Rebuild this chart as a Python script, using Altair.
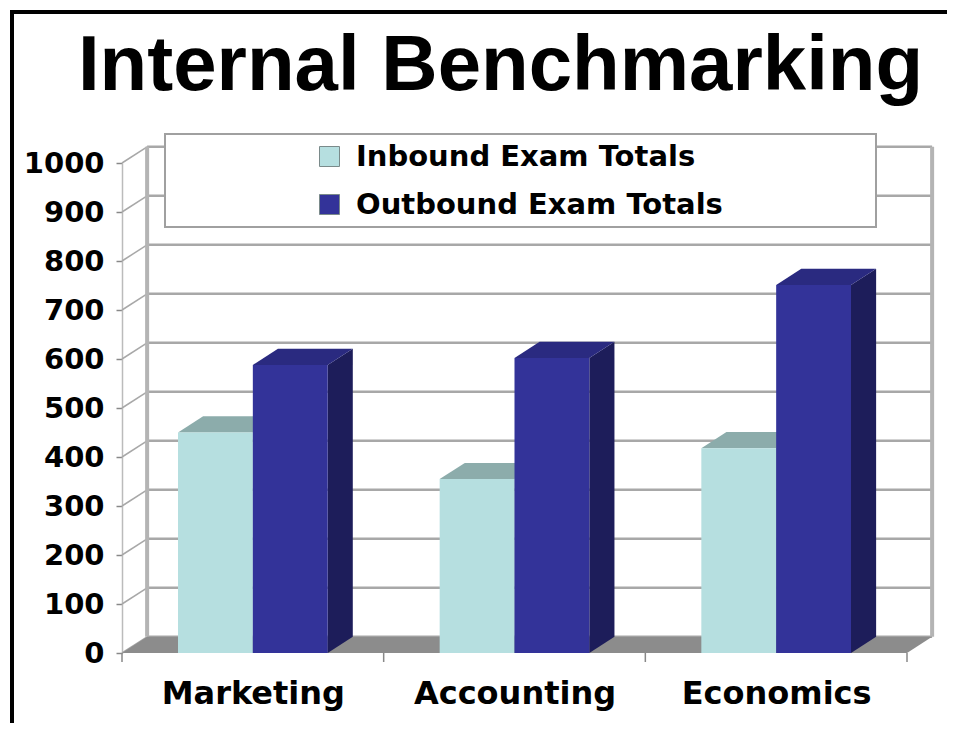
import altair as alt
import pandas as pd
import json

# ---- data ----
categories = ["Marketing", "Accounting", "Economics"]
series = ["Inbound Exam Totals", "Outbound Exam Totals"]
inbound = [450, 355, 418]
outbound = [588, 602, 751]
y_ticks = list(range(0, 1001, 100))

# ---- style constants (3-D look) ----
BAR_W = 0.286      # bar width, in category units
DX = 0.096         # depth offset along x (category units)
DY = 33            # depth offset along y (value units)
W, H = 785, 490
N = len(categories)
PX_X = N / W       # category units per pixel
PX_Y = 1000 / H    # value units per pixel

front_colors = ["#B6DFE0", "#333399"]
top_colors = ["#8CACAB", "#2A2A80"]
side_colors = ["#7E9A9A", "#1D1D5A"]

# ---- tables built from the arrays ----
rows = []
for i, cat in enumerate(categories):
    c = i + 0.5
    for s, vals in enumerate([inbound, outbound]):
        x0 = c - BAR_W if s == 0 else c
        rows.append(dict(category=cat, series=series[s], sidx=s, value=vals[i],
                         zero=0, x0=x0, x1=x0 + BAR_W, bar=f"{cat}-{s}"))
bars = pd.DataFrame(rows)

top_pts, side_pts = [], []
for r in rows:
    a, b, v = r["x0"], r["x1"], r["value"]
    for x, y, y2 in [(a, v, v), (a + DX, v, v + DY), (b, v, v + DY), (b + DX, v + DY, v + DY)]:
        top_pts.append(dict(bar=r["bar"], sidx=r["sidx"], x=x, y=y, y2=y2))
    for x, y, y2 in [(b, 0, v), (b + DX, DY, v + DY)]:
        side_pts.append(dict(bar=r["bar"], sidx=r["sidx"], x=x, y=y, y2=y2))
top_df = pd.DataFrame(top_pts)
side_df = pd.DataFrame(side_pts)

floor_df = pd.DataFrame([dict(x=0, y=0, y2=0), dict(x=DX, y=0, y2=DY),
                         dict(x=N, y=0, y2=DY), dict(x=N + DX, y=DY, y2=DY)])
grid_df = pd.DataFrame(dict(t=y_ticks))
grid_df["yb"] = grid_df["t"] + DY
grid_df["xa"] = 0.0
grid_df["xb"] = DX
grid_df["xc"] = N + DX
walls_df = pd.DataFrame(dict(x=[DX, N + DX], y=[DY, DY], y2=[1000 + DY, 1000 + DY]))
bounds_df = pd.DataFrame(dict(x=list(range(N + 1)), y=0.0, y2=-9 * PX_Y))

# decorations expressed in scale units
fx = -110 * PX_X
fy = 1000 + 151 * PX_Y
frame_v = pd.DataFrame([dict(x=fx, y=fy + 2 * PX_Y, y2=-300)])
frame_h = pd.DataFrame([dict(x=fx - 2 * PX_X, x2=N + 1, y=fy)])
legend_box = pd.DataFrame([dict(x=43 * PX_X, x2=754 * PX_X,
                                y=1000 + 29 * PX_Y, y2=1000 - 64 * PX_Y)])

xs = alt.Scale(domain=[0, N], nice=False, zero=False)
ys = alt.Scale(domain=[0, 1000], nice=False, zero=False)

AX_X = alt.Axis(
    values=[i + 0.5 for i in range(N)],
    labelExpr=f"{json.dumps(categories)}[floor(datum.value)]",
    ticks=False, domain=False, grid=False, title=None,
    labelFont="DejaVu Sans", labelFontWeight="bold", labelFontSize=32,
    labelColor="black", labelPadding=25, labelLimit=1000)
AX_Y = alt.Axis(
    values=y_ticks, format="d", grid=False, title=None,
    labelFont="DejaVu Sans", labelFontWeight="bold", labelFontSize=29,
    labelColor="black", labelPadding=12, tickSize=6, tickColor="#888888",
    tickWidth=1.5, domainColor="#BBBBBB", domainWidth=1.5, labelLimit=1000)


def X(f):
    return alt.X(f, type="quantitative", scale=xs, axis=AX_X)


def Y(f, **kw):
    return alt.Y(f, type="quantitative", scale=ys, axis=AX_Y, **kw)


GRID = "#A8A8A8"

back_grid = alt.Chart(grid_df).mark_rule(color=GRID, strokeWidth=2.5).encode(
    x=X("xb"), x2="xc:Q", y=Y("yb"))

diag = alt.Chart(grid_df).mark_rule(color=GRID, strokeWidth=1.5).encode(
    x=X("xa"), x2="xb:Q", y=Y("t"), y2="yb:Q")

walls = alt.Chart(walls_df).mark_rule(color="#B4B4B4", strokeWidth=4).encode(
    x=X("x"), y=Y("y"), y2="y2:Q")

lbox = alt.Chart(legend_box).mark_rect(fill="white", stroke="#A0A0A0", strokeWidth=2).encode(
    x=X("x"), x2="x2:Q", y=Y("y"), y2="y2:Q")

floor = alt.Chart(floor_df).mark_area(color="#8C8C8C", interpolate="linear").encode(
    x=X("x"), y=Y("y", stack=None), y2="y2:Q")

bound_ticks = alt.Chart(bounds_df).mark_rule(color="#888888", strokeWidth=1.5).encode(
    x=X("x"), y=Y("y"), y2="y2:Q")


def face(df, s, colors):
    return alt.Chart(df).transform_filter(f"datum.sidx == {s}").mark_area(
        color=colors[s], interpolate="linear").encode(
        x=X("x"), y=Y("y", stack=None), y2="y2:Q", detail="bar:N")


in_top = face(top_df, 0, top_colors)
in_side = face(side_df, 0, side_colors)
out_side = face(side_df, 1, side_colors)
out_top = face(top_df, 1, top_colors)

front = alt.Chart(bars).mark_rect().encode(
    x=X("x0"), x2="x1:Q",
    y=Y("value"), y2="zero:Q",
    color=alt.Color("series:N", scale=alt.Scale(domain=series, range=front_colors),
                    legend=alt.Legend(
                        title=None, orient="none", legendX=43, legendY=-29,
                        padding=8, rowPadding=18, symbolType="square", symbolSize=400,
                        symbolOffset=142, labelOffset=12, labelFont="DejaVu Sans",
                        labelFontWeight="bold", labelFontSize=29, labelColor="black",
                        labelLimit=1000, symbolStrokeColor="#7A8A8A",
                        symbolStrokeWidth=1)),
)

frame_left = alt.Chart(frame_v).mark_rule(color="black", strokeWidth=4).encode(
    x=X("x"), y=Y("y"), y2="y2:Q")
frame_top = alt.Chart(frame_h).mark_rule(color="black", strokeWidth=4).encode(
    x=X("x"), x2="x2:Q", y=Y("y"))

chart = alt.layer(
    back_grid, diag, walls, lbox, floor, bound_ticks,
    in_top, in_side, out_side, out_top, front,
    frame_left, frame_top,
).properties(
    width=W, height=H,
    title=alt.Title("Internal Benchmarking", font="Liberation Sans", fontSize=78,
                    fontWeight="bold", color="black", anchor="middle",
                    dx=-14, offset=40, dy=138),
    autosize=alt.AutoSizeParams(type="none"),
    padding={"left": 114, "top": 155, "right": 40, "bottom": 70},
).configure_view(stroke=None)

chart.save("out.html", embed_options={"renderer": "svg", "actions": False})
